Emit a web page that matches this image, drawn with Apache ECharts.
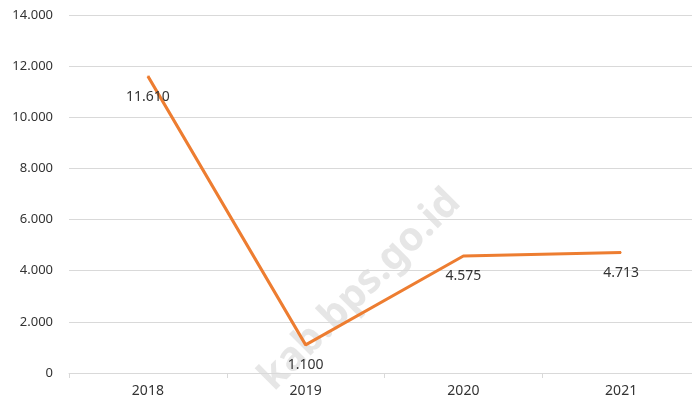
<!DOCTYPE html>
<html>
<head>
<meta charset="utf-8">
<script src="https://cdn.jsdelivr.net/npm/echarts@6/dist/echarts.min.js"></script>
<style>
  html, body { margin: 0; padding: 0; background: #fff; }
  #chart { width: 692px; height: 405px; }
</style>
</head>
<body>
<div id="chart"></div>
<script>
// data
const years = ['2018', '2019', '2020', '2021']
const values = [11610, 1100, 4575, 4713]

const fmt = v => String(v).replace(/\B(?=(\d{3})+(?!\d))/g, '.')
const font = 'Noto Sans, Open Sans, sans-serif'

const chart = echarts.init(document.getElementById('chart'))
chart.setOption({
  animation: false,
  textStyle: { fontFamily: font },
  grid: { left: 69, top: 15, right: -8, bottom: 32, containLabel: false, outerBoundsMode: 'none' },
  xAxis: {
    type: 'category',
    data: years,
    boundaryGap: true,
    axisLine: { lineStyle: { color: '#d9d9d9' } },
    axisTick: { show: true, length: 5, lineStyle: { color: '#d9d9d9' } },
    axisLabel: { color: '#333', fontSize: 14, margin: 11, fontFamily: font }
  },
  yAxis: {
    type: 'value',
    min: 0, max: 14000, interval: 2000,
    axisLine: { show: false },
    axisTick: { show: false },
    splitLine: { lineStyle: { color: '#d9d9d9' } },
    axisLabel: { color: '#333', fontSize: 13, margin: 16, formatter: fmt, fontFamily: font }
  },
  series: [{
    type: 'line',
    data: values,
    symbol: 'circle',
    symbolSize: 1,
    showSymbol: true,
    itemStyle: { color: '#ed7d31' },
    lineStyle: { color: '#ed7d31', width: 3 },
    label: {
      show: true, position: 'bottom', distance: 13,
      color: '#333', fontSize: 14, fontFamily: font,
      formatter: p => fmt(p.value)
    }
  }],
  graphic: [{
    type: 'text',
    x: 360, y: 290,
    rotation: Math.PI / 4,
    style: {
      text: 'kab.bps.go.id',
      fill: 'rgba(200,200,200,0.45)',
      font: 'bold 40px ' + font,
      textAlign: 'center',
      textVerticalAlign: 'middle'
    },
    z: -1
  }]
})
</script>
</body>
</html>
